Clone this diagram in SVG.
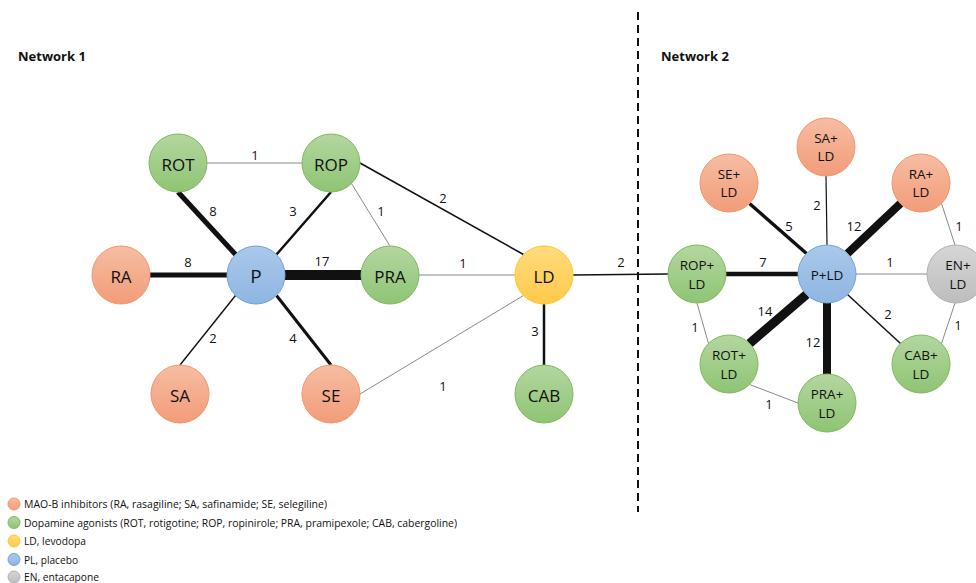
<svg xmlns="http://www.w3.org/2000/svg" width="976" height="583" viewBox="0 0 976 583">
<defs>
<linearGradient id="gO" x1="0" y1="0" x2="0" y2="1"><stop offset="0" stop-color="#f6bda3"/><stop offset="1" stop-color="#f29c78"/></linearGradient>
<linearGradient id="gG" x1="0" y1="0" x2="0" y2="1"><stop offset="0" stop-color="#b3d79f"/><stop offset="1" stop-color="#8fc474"/></linearGradient>
<linearGradient id="gB" x1="0" y1="0" x2="0" y2="1"><stop offset="0" stop-color="#aac9ea"/><stop offset="1" stop-color="#8eb5e2"/></linearGradient>
<linearGradient id="gY" x1="0" y1="0" x2="0" y2="1"><stop offset="0" stop-color="#ffdc7a"/><stop offset="1" stop-color="#ffc94c"/></linearGradient>
<linearGradient id="gGr" x1="0" y1="0" x2="0" y2="1"><stop offset="0" stop-color="#d6d6d6"/><stop offset="1" stop-color="#bdbdbd"/></linearGradient>
</defs>
<style>
text{font-family:"Open Sans","Liberation Sans",sans-serif;fill:#111}
.o{fill:url(#gO);stroke:#f3956a;stroke-width:1}
.g{fill:url(#gG);stroke:#7dba5a;stroke-width:1}
.b{fill:url(#gB);stroke:#6fa3d8;stroke-width:1}
.y{fill:url(#gY);stroke:#ffc62a;stroke-width:1}
.gr{fill:url(#gGr);stroke:#b0b0b0;stroke-width:1}
.n1{font-size:17px;text-anchor:middle;dominant-baseline:central}
.n2{font-size:13.5px;text-anchor:middle;dominant-baseline:central}
.lab{font-size:13px;text-anchor:middle;dominant-baseline:central}
.title{font-size:13px;font-weight:bold}
.leg{font-size:10.5px;dominant-baseline:central}
.e{stroke:#111;fill:none}
.t{stroke:#8a8a8a;stroke-width:1;fill:none}
</style>
<rect width="976" height="583" fill="#fff"/>
<text class="title" x="18" y="61">Network 1</text>
<text class="title" x="661" y="61">Network 2</text>
<line x1="638" y1="12" x2="638" y2="512" stroke="#111" stroke-width="2" stroke-dasharray="8,5"/>
<g id="connectors">
<line class="t" x1="207" y1="163" x2="302" y2="163"/>
<line class="e" stroke-width="5" x1="178" y1="192" x2="235.5" y2="254.5"/>
<line class="e" stroke-width="2.5" x1="331" y1="192" x2="276.5" y2="254.5"/>
<line class="t" x1="351.5" y1="183.5" x2="390" y2="246"/>
<line class="e" stroke-width="1.6" x1="360" y1="163" x2="523.5" y2="254.5"/>
<line class="e" stroke-width="5" x1="150" y1="275" x2="227" y2="275"/>
<line class="e" stroke-width="10" x1="285" y1="275" x2="361" y2="275"/>
<line class="t" x1="419" y1="275" x2="515" y2="275"/>
<line class="e" stroke-width="1.4" x1="180" y1="365" x2="235.5" y2="295.5"/>
<line class="e" stroke-width="3" x1="331" y1="365" x2="276.5" y2="295.5"/>
<line class="t" x1="360" y1="394" x2="523.5" y2="295.5"/>
<line class="e" stroke-width="2.5" x1="544" y1="304" x2="544" y2="365"/>
<line class="e" stroke-width="1.6" x1="573" y1="275" x2="668" y2="274"/>
<line class="e" stroke-width="3.5" x1="749.5" y1="203.5" x2="806.5" y2="253.5"/>
<line class="e" stroke-width="1.2" x1="826" y1="176" x2="827" y2="245"/>
<line class="e" stroke-width="8" x1="900.5" y1="203.5" x2="847.5" y2="253.5"/>
<line class="t" x1="941.5" y1="203.5" x2="955" y2="245"/>
<line class="e" stroke-width="4.5" x1="726" y1="274" x2="798" y2="274"/>
<line class="t" x1="856" y1="274" x2="927" y2="274"/>
<line class="e" stroke-width="9" x1="806.5" y1="294.5" x2="749.5" y2="343.5"/>
<line class="e" stroke-width="8" x1="827" y1="303" x2="827" y2="374"/>
<line class="e" stroke-width="1.5" x1="847.5" y1="294.5" x2="900.5" y2="343.5"/>
<line class="t" x1="941.5" y1="343.5" x2="955" y2="303"/>
<line class="t" x1="697" y1="303" x2="708.5" y2="343.5"/>
<line class="t" x1="749.5" y1="384.5" x2="798" y2="403"/>
</g>
<g id="edge-labels">
<text class="lab" x="255" y="155">1</text>
<text class="lab" x="213" y="211">8</text>
<text class="lab" x="293" y="211">3</text>
<text class="lab" x="381" y="211">1</text>
<text class="lab" x="443" y="198">2</text>
<text class="lab" x="188" y="262">8</text>
<text class="lab" x="322" y="261">17</text>
<text class="lab" x="463" y="263">1</text>
<text class="lab" x="213" y="338">2</text>
<text class="lab" x="293" y="338">4</text>
<text class="lab" x="443" y="386">1</text>
<text class="lab" x="535" y="331">3</text>
<text class="lab" x="621" y="262">2</text>
<text class="lab" x="789" y="226">5</text>
<text class="lab" x="817" y="205">2</text>
<text class="lab" x="854" y="226">12</text>
<text class="lab" x="959" y="226">1</text>
<text class="lab" x="763" y="262">7</text>
<text class="lab" x="890" y="262">1</text>
<text class="lab" x="765" y="311">14</text>
<text class="lab" x="888" y="314">2</text>
<text class="lab" x="695" y="327">1</text>
<text class="lab" x="813" y="342">12</text>
<text class="lab" x="958" y="325">1</text>
<text class="lab" x="769" y="404">1</text>
</g>
<g id="ROT"><circle class="g" cx="178" cy="163" r="29"/><text class="n1" x="178" y="164">ROT</text></g>
<g id="ROP"><circle class="g" cx="331" cy="163" r="29"/><text class="n1" x="331" y="164">ROP</text></g>
<g id="RA"><circle class="o" cx="121" cy="275" r="29"/><text class="n1" x="121" y="276">RA</text></g>
<g id="P"><circle class="b" cx="256" cy="275" r="29"/><text class="n1" x="256" y="276" style="font-size:19px">P</text></g>
<g id="PRA"><circle class="g" cx="390" cy="275" r="29"/><text class="n1" x="390" y="276">PRA</text></g>
<g id="SA"><circle class="o" cx="180" cy="394" r="29"/><text class="n1" x="180" y="395">SA</text></g>
<g id="SE"><circle class="o" cx="331" cy="394" r="29"/><text class="n1" x="331" y="395">SE</text></g>
<g id="LD"><circle class="y" cx="544" cy="275" r="29"/><text class="n1" x="544" y="276">LD</text></g>
<g id="CAB"><circle class="g" cx="544" cy="394" r="29"/><text class="n1" x="544" y="395">CAB</text></g>
<g id="SE_LD"><circle class="o" cx="729" cy="183" r="29"/><text class="n2" x="729" y="174">SE+</text><text class="n2" x="729" y="192">LD</text></g>
<g id="SA_LD"><circle class="o" cx="826" cy="147" r="29"/><text class="n2" x="826" y="138">SA+</text><text class="n2" x="826" y="156">LD</text></g>
<g id="RA_LD"><circle class="o" cx="921" cy="183" r="29"/><text class="n2" x="921" y="174">RA+</text><text class="n2" x="921" y="192">LD</text></g>
<g id="ROP_LD"><circle class="g" cx="697" cy="274" r="29"/><text class="n2" x="697" y="265">ROP+</text><text class="n2" x="697" y="284">LD</text></g>
<g id="P_LD"><circle class="b" cx="827" cy="274" r="29"/><text class="n2" x="827" y="275">P+LD</text></g>
<g id="EN_LD"><circle class="gr" cx="956" cy="274" r="29"/><text class="n2" x="958" y="265">EN+</text><text class="n2" x="958" y="284">LD</text></g>
<g id="ROT_LD"><circle class="g" cx="729" cy="364" r="29"/><text class="n2" x="729" y="355">ROT+</text><text class="n2" x="729" y="374">LD</text></g>
<g id="PRA_LD"><circle class="g" cx="827" cy="403" r="29"/><text class="n2" x="827" y="394">PRA+</text><text class="n2" x="827" y="413">LD</text></g>
<g id="CAB_LD"><circle class="g" cx="921" cy="364" r="29"/><text class="n2" x="921" y="355">CAB+</text><text class="n2" x="921" y="374">LD</text></g>
<g id="legend">
<circle class="o" cx="14" cy="504" r="6"/><text class="leg" x="24" y="504" textLength="303" lengthAdjust="spacingAndGlyphs">MAO-B inhibitors (RA, rasagiline; SA, safinamide; SE, selegiline)</text>
<circle class="g" cx="14" cy="522.5" r="6"/><text class="leg" x="24" y="522.5" textLength="433" lengthAdjust="spacingAndGlyphs">Dopamine agonists (ROT, rotigotine; ROP, ropinirole; PRA, pramipexole; CAB, cabergoline)</text>
<circle class="y" cx="14" cy="541" r="6"/><text class="leg" x="24" y="541" textLength="62" lengthAdjust="spacingAndGlyphs">LD, levodopa</text>
<circle class="b" cx="14" cy="559.5" r="6"/><text class="leg" x="24" y="559.5" textLength="54" lengthAdjust="spacingAndGlyphs">PL, placebo</text>
<circle class="gr" cx="14" cy="577" r="6"/><text class="leg" x="24" y="577" textLength="75" lengthAdjust="spacingAndGlyphs">EN, entacapone</text>
</g>
</svg>
